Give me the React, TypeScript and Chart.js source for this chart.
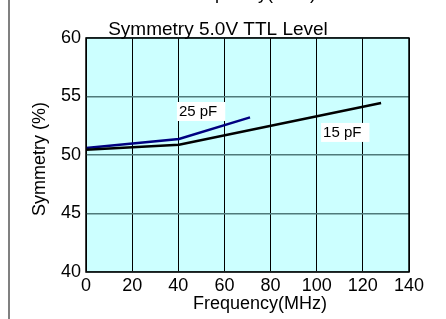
import React, { useEffect, useRef } from "react";
import { Chart, registerables } from "chart.js";

Chart.register(...registerables);

const freq15 = [0, 40.3, 127.9];
const sym15 = [50.45, 50.88, 54.44];
const freq25 = [0, 40.3, 71.1];
const sym25 = [50.6, 51.37, 53.22];
const xTicks = [0, 20, 40, 60, 80, 100, 120, 140];
const yTicks = [40, 45, 50, 55, 60];
const labelTexts = ["25 pF", "15 pF"];
const labelX = [39.4, 101.9];
const labelY = [54.53, 52.74];
const chartTitle = "Symmetry 5.0V TTL Level";
const xTitle = "Frequency(MHz)";
const yTitle = "Symmetry (%)";

const FONT = "'Liberation Sans', Arial, sans-serif";

const decor = {
  id: "decor",
  beforeDraw(chart: any) {
    const { ctx, chartArea: a } = chart;
    ctx.save();
    ctx.fillStyle = "#ffffff";
    ctx.fillRect(0, 0, chart.width, chart.height);
    ctx.fillStyle = "#ccffff";
    ctx.fillRect(a.left, a.top, a.right - a.left, a.bottom - a.top);
    ctx.restore();
  },
  afterDatasetsDraw(chart: any) {
    const { ctx, chartArea: a, scales } = chart;
    ctx.save();
    // labels with white boxes
    ctx.font = `15px ${FONT}`;
    ctx.textBaseline = "alphabetic";
    ctx.textAlign = "left";
    labelTexts.forEach((t, i) => {
      const px = scales.x.getPixelForValue(labelX[i]);
      const py = scales.y.getPixelForValue(labelY[i]);
      const w = ctx.measureText(t).width + 10;
      ctx.fillStyle = "#ffffff";
      ctx.fillRect(px, py, w, 19);
      ctx.fillStyle = "#000000";
      ctx.fillText(t, px + 2, py + 14);
    });
    // border
    ctx.strokeStyle = "#000000";
    ctx.lineWidth = 1.5;
    ctx.strokeRect(a.left, a.top, a.right - a.left, a.bottom - a.top);
    // titles
    ctx.fillStyle = "#000000";
    ctx.font = `19px ${FONT}`;
    ctx.textAlign = "center";
    ctx.fillText(chartTitle, 218, 35);
    ctx.font = `18px ${FONT}`;
    ctx.fillText(xTitle, 260, 309);
    ctx.fillText(xTitle, 249, -1);
    ctx.save();
    ctx.translate(45, 159);
    ctx.rotate(-Math.PI / 2);
    ctx.fillText(yTitle, 0, 0);
    ctx.restore();
    // left gray frame line
    ctx.fillStyle = "#808080";
    ctx.fillRect(8, 0, 2, chart.height);
    ctx.restore();
  },
};

export default function App() {
  const ref = useRef<HTMLCanvasElement>(null);
  useEffect(() => {
    const chart = new Chart(ref.current!, {
      type: "line",
      data: {
        datasets: [
          {
            label: "15 pF",
            data: freq15.map((x, i) => ({ x, y: sym15[i] })),
            borderColor: "#000000",
            borderWidth: 2.5,
            pointRadius: 0,
            tension: 0,
          },
          {
            label: "25 pF",
            data: freq25.map((x, i) => ({ x, y: sym25[i] })),
            borderColor: "#000080",
            borderWidth: 2.5,
            pointRadius: 0,
            tension: 0,
          },
        ],
      },
      options: {
        animation: false,
        responsive: false,
        maintainAspectRatio: false,
        layout: { padding: { left: 0, right: 37, top: 38, bottom: 0 } },
        plugins: { legend: { display: false }, tooltip: { enabled: false }, title: { display: false } },
        scales: {
          x: {
            type: "linear",
            min: 0,
            max: 140,
            afterBuildTicks: (s: any) => {
              s.ticks = xTicks.map((v) => ({ value: v }));
            },
            afterFit: (s: any) => {
              s.height = 47;
            },
            ticks: { color: "#000", font: { family: FONT, size: 18 }, padding: 3, maxRotation: 0, autoSkip: false },
            grid: { color: "#000000", lineWidth: 1, drawTicks: false },
            border: { display: false },
          },
          y: {
            min: 40,
            max: 60,
            afterBuildTicks: (s: any) => {
              s.ticks = yTicks.map((v) => ({ value: v }));
            },
            afterFit: (s: any) => {
              s.width = 86;
            },
            ticks: { color: "#000", font: { family: FONT, size: 18 }, padding: 5, autoSkip: false },
            grid: { color: "#4f7a7a", lineWidth: 1.5, drawTicks: false },
            border: { display: false },
          },
        },
      },
      plugins: [decor],
    });
    return () => chart.destroy();
  }, []);
  return (
    <div style={{ position: "fixed", left: 0, top: 0, width: 446, height: 319, background: "#fff" }}>
      <canvas ref={ref} width={446} height={319} />
    </div>
  );
}
